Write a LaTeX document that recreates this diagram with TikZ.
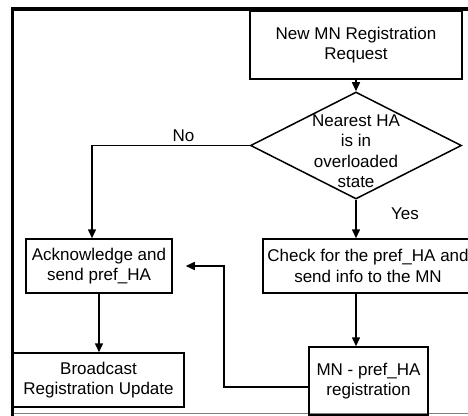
\documentclass[tikz,border=0pt]{standalone}
\usepackage{fontspec}
\setmainfont{Liberation Sans}
\usetikzlibrary{shapes.geometric, arrows.meta, positioning}

\begin{document}
\begin{tikzpicture}
	[x=1pt, y=-1pt,
	every node/.style = {font=\fontsize{17}{20.5}\selectfont, align=center},
	box/.style = {shape=rectangle, draw, line width=1.5pt, inner sep=0pt},
	decision/.style = {shape=diamond, draw, line width=1.5pt, inner sep=0pt},
	edge/.style = {draw, line width=1.5pt, -{Triangle[length=9pt, width=8pt]}}]
	\useasboundingbox (0,0) rectangle (468,415);
	\clip (0,0) rectangle (468,415);
	% frame of the screenshot
	\draw [line width=3.5pt] (12.5,420) -- (12.5,9) -- (468,9);
	\draw [gray, line width=1pt] (14,413.5) -- (468,413.5);
	\node (A) [box, minimum width=212pt, minimum height=68pt] at (356,45)
		{New MN Registration\\ Request};
	\node (B) [decision, minimum width=211pt, minimum height=107pt] at (356,145.5) {};
	\node (Bt) at (356,151) {Nearest HA\\ is in\\ overloaded\\ state};
	\node (C) [box, minimum width=210pt, minimum height=54pt] at (368,266)
		{Check for the pref\_HA and\\ send info to the MN};
	\node (D) [box, minimum width=146pt, minimum height=54pt] at (99,266)
		{Acknowledge and\\ send pref\_HA};
	\node (E) [box, minimum width=171pt, minimum height=54pt] at (98.5,380)
		{Broadcast\\ Registration Update};
	\node (F) [box, minimum width=119pt, minimum height=68pt] at (368.5,381)
		{MN - pref\_HA\\ registration};
	\coordinate (G) at (224,266);
	\draw [edge] (A) -- (B);
	\draw [edge] (B.west) -| node (N) [pos=0.21, above] {No} ([xshift=-7pt]D.north);
	\draw [edge] (B.south) -- node (Y) [pos=0.375, right=31pt] {Yes} (C.north -| B);
	\draw [edge] (C.south -| B) -- (F.north -| B);
	\draw [edge] (D.south) -- (D.south |- E.north);
	\draw [edge, shorten >=13pt] ([yshift=-6pt]F.west) -| (G) -- (D.east);
\end{tikzpicture}
\end{document}
